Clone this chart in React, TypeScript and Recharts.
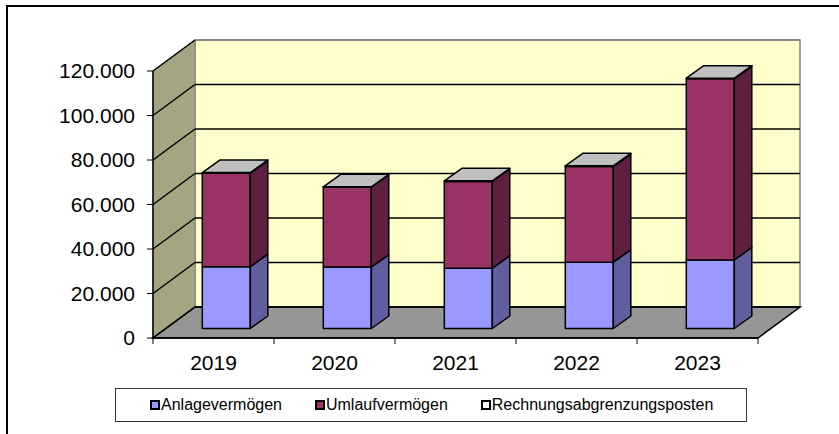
import React from 'react';
import { BarChart, Bar, XAxis, YAxis, CartesianGrid } from 'recharts';

const years = ['2019', '2020', '2021', '2022', '2023'];
const anlagevermoegen = [27800, 27600, 27100, 29800, 30800];
const umlaufvermoegen = [42000, 35900, 39000, 43000, 81400];
const rechnungsabgrenzung = [300, 200, 250, 300, 300];
const yTicks = [0, 20000, 40000, 60000, 80000, 100000, 120000];

const seriesNames = ['Anlagevermögen', 'Umlaufvermögen', 'Rechnungsabgrenzungsposten'];
const frontColors = ['#9999FF', '#993366', '#FFFFFF'];
const sideColors = ['#5F5FA0', '#5F1F40', '#C0C0C0'];

const data = years.map((year, i) => ({
  year,
  anlage: anlagevermoegen[i],
  umlauf: umlaufvermoegen[i],
  rap: rechnungsabgrenzung[i],
}));

const FONT = '"Liberation Sans", Arial, sans-serif';

// 3d depth of the walls and of the columns
const WALL_DX = 42;
const WALL_DY = 31;
const BAR_OX = 13;
const BAR_OY = 9.5;
const BAR_DX = 17.5;
const BAR_DY = 12.5;

const formatDe = (v: number) => String(v).replace(/\B(?=(\d{3})+(?!\d))/g, '.');

const makeBox = (front: string, side: string, withTop: boolean) => (props: any) => {
  const { x, y, width, height } = props;
  if (x == null || y == null || !width) return <g />;
  const h = Math.max(height || 0, 0);
  const fx = x + BAR_OX;
  const fy = y - BAR_OY;
  const xr = fx + width;
  return (
    <g stroke="#000" strokeWidth={1.5} strokeLinejoin="round">
      <rect x={fx} y={fy} width={width} height={h} fill={front} />
      <polygon
        points={`${xr},${fy} ${xr + BAR_DX},${fy - BAR_DY} ${xr + BAR_DX},${fy + h - BAR_DY} ${xr},${fy + h}`}
        fill={side}
      />
      {withTop && (
        <polygon
          points={`${fx},${fy} ${fx + BAR_DX},${fy - BAR_DY} ${xr + BAR_DX},${fy - BAR_DY} ${xr},${fy}`}
          fill="#C0C0C0"
        />
      )}
    </g>
  );
};

const gridLine = (props: any) => {
  const { x, y, width, height, y1, index } = props;
  const bottom = y + height;
  const isTop = Math.abs(y1 - y) < 0.5;
  const walls =
    index === 0 ? (
      <g>
        <rect
          x={x + WALL_DX}
          y={y - WALL_DY}
          width={width}
          height={height}
          fill="#FFFFCC"
          stroke="#808080"
          strokeWidth={1.5}
        />
        <polygon
          points={`${x},${y} ${x + WALL_DX},${y - WALL_DY} ${x + WALL_DX},${bottom - WALL_DY} ${x},${bottom}`}
          fill="#A5A582"
          stroke="#808080"
          strokeWidth={1}
        />
        <polygon
          points={`${x},${bottom} ${x + width},${bottom} ${x + width + WALL_DX},${bottom - WALL_DY} ${x + WALL_DX},${bottom - WALL_DY}`}
          fill="#969696"
          stroke="#000"
          strokeWidth={1.5}
        />
      </g>
    ) : null;
  return (
    <g key={`grid-${index}`}>
      {walls}
      <line
        x1={x + WALL_DX}
        y1={y1 - WALL_DY}
        x2={x + width + WALL_DX}
        y2={y1 - WALL_DY}
        stroke={isTop ? '#808080' : '#000'}
        strokeWidth={1.5}
      />
      <line x1={x} y1={y1} x2={x + WALL_DX} y2={y1 - WALL_DY} stroke="#000" strokeWidth={1.5} />
    </g>
  );
};

const YearTick = (props: any) => {
  const { x, y, payload, index, width, visibleTicksCount } = props;
  const band = width / (visibleTicksCount || years.length);
  const axisY = y - 17;
  return (
    <g>
      <line x1={x - band / 2} y1={axisY} x2={x - band / 2} y2={axisY + 6} stroke="#000" strokeWidth={1} />
      {index === visibleTicksCount - 1 && (
        <line x1={x + band / 2} y1={axisY} x2={x + band / 2} y2={axisY + 6} stroke="#000" strokeWidth={1} />
      )}
      <text x={x} y={y} dy="0.71em" textAnchor="middle" fill="#000" fontSize={21} fontFamily={FONT}>
        {payload.value}
      </text>
    </g>
  );
};

const App: React.FC = () => {
  return (
    <div style={{ position: 'relative', width: 839, height: 434, overflow: 'hidden', background: '#fff' }}>
      <style>{'body { margin: 0; }'}</style>
      <div
        style={{
          position: 'absolute',
          left: 6,
          top: 5,
          width: 900,
          height: 500,
          borderTop: '2px solid #000',
          borderLeft: '2px solid #000',
        }}
      />
      <div style={{ position: 'absolute', left: 0, top: 0 }}>
        <BarChart
          width={839}
          height={434}
          data={data}
          margin={{ top: 71, right: 81, bottom: 56, left: 53 }}
          barCategoryGap="30%"
        >
          <CartesianGrid horizontal={gridLine} vertical={false} />
          <XAxis
            dataKey="year"
            height={40}
            axisLine={{ stroke: '#000', strokeWidth: 1.5 }}
            tickLine={false}
            tickSize={6}
            tickMargin={11}
            tick={<YearTick />}
            interval={0}
          />
          <YAxis
            width={100}
            domain={[0, 120000]}
            ticks={yTicks}
            interval={0}
            tickFormatter={formatDe}
            axisLine={{ stroke: '#000', strokeWidth: 1.5 }}
            tickLine={{ stroke: '#000', strokeWidth: 1 }}
            tickSize={6}
            tickMargin={12}
            tick={{ fill: '#000', fontSize: 21, fontFamily: FONT }}
          />
          <Bar dataKey="anlage" stackId="a" isAnimationActive={false} shape={makeBox(frontColors[0], sideColors[0], false)} />
          <Bar dataKey="umlauf" stackId="a" isAnimationActive={false} shape={makeBox(frontColors[1], sideColors[1], false)} />
          <Bar dataKey="rap" stackId="a" isAnimationActive={false} shape={makeBox(frontColors[2], sideColors[2], true)} />
        </BarChart>
      </div>
      <div
        style={{
          position: 'absolute',
          left: 115,
          top: 388,
          width: 632,
          height: 34,
          boxSizing: 'border-box',
          border: '1px solid #333',
          display: 'flex',
          alignItems: 'center',
          paddingLeft: 34,
          fontFamily: FONT,
          fontSize: 16,
          color: '#000',
        }}
      >
        {seriesNames.map((name, i) => (
          <div key={name} style={{ display: 'flex', alignItems: 'center', marginRight: 33 }}>
            <span
              style={{
                display: 'inline-block',
                width: 10,
                height: 10,
                boxSizing: 'border-box',
                border: '2px solid #000',
                background: frontColors[i],
                marginRight: 1,
              }}
            />
            <span>{name}</span>
          </div>
        ))}
      </div>
    </div>
  );
};

export default App;
